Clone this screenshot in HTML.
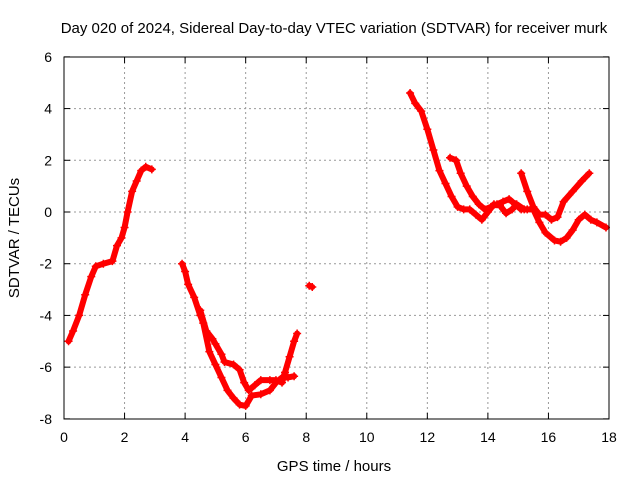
<!DOCTYPE html>
<html><head><meta charset="utf-8"><style>
body{margin:0;background:#fff;}
svg{display:block;font-family:"Liberation Sans",sans-serif;}
</style></head><body>
<svg id="chart" width="640" height="480">
<rect width="640" height="480" fill="#fff"/>
<text x="334" y="33" font-size="15" text-anchor="middle">Day 020 of 2024, Sidereal Day-to-day VTEC variation (SDTVAR) for receiver murk</text>
<text x="334" y="471" font-size="15" text-anchor="middle">GPS time / hours</text>
<text transform="translate(19,238) rotate(-90)" font-size="15" text-anchor="middle">SDTVAR / TECUs</text>
<g id="grid"></g><g id="ticks"></g><g id="marks"></g>
<rect x="64" y="57" width="545" height="362" fill="none" stroke="#000" stroke-width="1"/>
</svg>
<script>
const xTicks=[0,2,4,6,8,10,12,14,16,18];
const yTicks=[-8,-6,-4,-2,0,2,4,6];
const seg1=[[0.15,-5],[0.3,-4.6],[0.5,-4],[0.7,-3.2],[0.9,-2.5],[1.05,-2.1],[1.3,-2],[1.6,-1.9],[1.75,-1.3],[1.9,-1],[2.0,-0.6],[2.1,0],[2.25,0.8],[2.4,1.2],[2.55,1.6],[2.7,1.75],[2.9,1.65]];
const seg2=[[3.9,-2],[4.0,-2.3],[4.1,-2.8],[4.3,-3.3],[4.5,-4],[4.6,-4.3],[4.8,-5.4],[5.0,-5.9],[5.2,-6.4],[5.4,-6.9],[5.6,-7.2],[5.8,-7.45],[6.0,-7.5],[6.2,-7.1],[6.5,-7.05],[6.8,-6.9],[7.0,-6.6],[7.2,-6.4],[7.4,-6.4],[7.6,-6.35]];
const seg3=[[4.5,-3.8],[4.7,-4.6],[4.9,-4.9],[5.0,-5.1],[5.2,-5.5],[5.3,-5.8],[5.6,-5.9],[5.8,-6.1],[5.95,-6.6],[6.1,-6.9],[6.3,-6.7],[6.5,-6.5],[6.8,-6.5],[7.0,-6.5],[7.2,-6.6],[7.3,-6.2],[7.45,-5.6],[7.6,-5.0],[7.7,-4.7]];
const seg4=[[8.1,-2.85],[8.2,-2.9]];
const seg5=[[11.43,4.6],[11.6,4.2],[11.8,3.9],[12.0,3.2],[12.2,2.4],[12.4,1.6],[12.6,1.1],[12.8,0.6],[13.0,0.2],[13.2,0.1],[13.4,0.1],[13.6,-0.1],[13.8,-0.3],[14.0,0.0],[14.2,0.3],[14.4,0.25],[14.6,-0.05],[14.8,0.1],[14.95,0.3],[15.2,0.1],[15.5,0.1],[15.7,-0.4],[15.9,-0.8],[16.2,-1.1],[16.4,-1.15],[16.6,-1.0],[16.8,-0.7],[17.0,-0.3],[17.2,-0.1],[17.4,-0.3],[17.6,-0.4],[17.9,-0.6]];
const seg6=[[12.75,2.1],[12.95,2.0],[13.1,1.5],[13.3,1.0],[13.5,0.6],[13.7,0.3],[13.9,0.1],[14.1,0.2],[14.3,0.3],[14.5,0.4],[14.7,0.5],[14.9,0.3],[15.1,0.1],[15.3,0.1]];
const seg7=[[15.1,1.5],[15.3,0.8],[15.5,0.2],[15.7,-0.1],[15.9,-0.1],[16.1,-0.3],[16.3,-0.2],[16.5,0.4],[16.8,0.8],[17.1,1.2],[17.35,1.5]];
const segments=[seg1,seg2,seg3,seg4,seg5,seg6,seg7];
const NS="http://www.w3.org/2000/svg";
const X=h=>64+h*(545/18);
const Y=v=>212-v*(362/14);
function mk(t,a,p){const e=document.createElementNS(NS,t);for(const k in a)e.setAttribute(k,a[k]);p.appendChild(e);return e;}
const grid=document.getElementById('grid'),ticks=document.getElementById('ticks'),marks=document.getElementById('marks');
xTicks.forEach(t=>{
 if(t>0&&t<18){const g=mk('line',{x1:X(t),x2:X(t),y1:57,y2:419,stroke:'#999','stroke-dasharray':'2,3'},grid);
 
 }
 mk('line',{x1:X(t),x2:X(t),y1:419,y2:413,stroke:'#000'},ticks);
 mk('line',{x1:X(t),x2:X(t),y1:57,y2:63,stroke:'#000'},ticks);
 const l=mk('text',{x:X(t),y:442,'font-size':14,'text-anchor':'middle'},ticks);l.textContent=t;
 
 
});
yTicks.forEach(t=>{
 if(t>-8&&t<6){const g=mk('line',{x1:64,x2:609,y1:Y(t),y2:Y(t),stroke:'#999','stroke-dasharray':'2,3'},grid);
 
 }
 mk('line',{x1:64,x2:70,y1:Y(t),y2:Y(t),stroke:'#000'},ticks);
 mk('line',{x1:603,x2:609,y1:Y(t),y2:Y(t),stroke:'#000'},ticks);
 const l=mk('text',{x:52,y:Y(t)+5,'font-size':14,'text-anchor':'end'},ticks);l.textContent=t;
 
 
});
segments.forEach((s,i)=>{
 const pl=mk('polyline',{points:s.map(p=>X(p[0])+','+Y(p[1])).join(' '),fill:'none',stroke:'#f00','stroke-width':6,'stroke-linejoin':'round','stroke-linecap':'round'},marks);
 
 
 s.forEach(p=>{
  const x=X(p[0]),y=Y(p[1]);
  const m=mk('path',{d:`M${x-4},${y}H${x+4}M${x},${y-4}V${y+4}`,stroke:'#f00','stroke-width':1.5},marks);
  
  
 });
});
</script>
</body></html>
